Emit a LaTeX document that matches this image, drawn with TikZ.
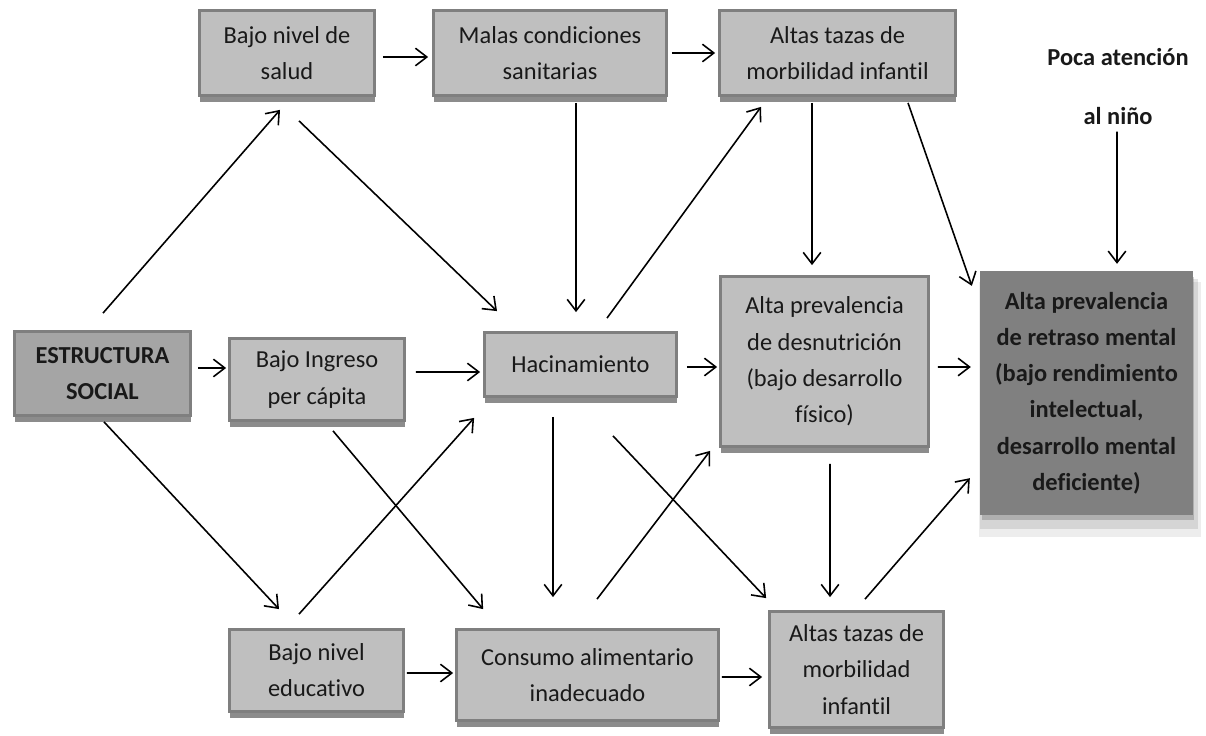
\documentclass[tikz,border=0pt]{standalone}
\usepackage{fontspec}
\setmainfont{Carlito}[Ligatures=NoCommon]
\usetikzlibrary{positioning,calc,shadows,arrows.meta}
\definecolor{BoxFill}{HTML}{BFBFBF}
\definecolor{BoxLine}{HTML}{7F7F7F}
\definecolor{RootFill}{HTML}{A5A5A5}
\definecolor{EffectFill}{HTML}{808080}
\newcommand{\diagfont}{\fontsize{13.9}{20.6}\selectfont}
\tikzstyle{CauseNode}=[rectangle, draw=BoxLine, line width=1.6pt, fill=BoxFill, align=center, inner sep=0pt, font=\diagfont, text=black!90, drop shadow={shadow xshift=0.5pt, shadow yshift=-3.5pt, opacity=0.45, fill=black}]
\tikzstyle{RootNode}=[CauseNode, fill=RootFill, font=\diagfont\bfseries]
\tikzstyle{EffectNode}=[rectangle, draw=EffectFill, line width=0.8pt, fill=EffectFill, align=center, inner sep=0pt, font=\diagfont\bfseries, text=black!90,
  drop shadow={shadow xshift=2pt, shadow yshift=-9pt, shadow scale=1.05, opacity=0.07, fill=black},
  drop shadow={shadow xshift=1.5pt, shadow yshift=-6pt, shadow scale=1.03, opacity=0.1, fill=black},
  drop shadow={shadow xshift=1pt, shadow yshift=-3pt, opacity=0.18, fill=black}]
\tikzstyle{NoteNode}=[align=center, font=\diagfont\bfseries, text=black!90, inner sep=0pt]
\tikzstyle{Link}=[->, line width=0.9pt]

\begin{document}
\begin{tikzpicture}[x=0.02cm, y=-0.02cm, >={Straight Barb[length=6.5pt,width=10pt]}]
    \useasboundingbox (0,0) rectangle (1206,736);

    \node (salud) [CauseNode, minimum width=3.50cm, minimum height=1.70cm] at (287,53) {Bajo nivel de\\salud};
    \node (malas) [CauseNode, minimum width=4.66cm, minimum height=1.70cm] at (550,53) {Malas condiciones\\sanitarias};
    \node (altastop) [CauseNode, minimum width=4.72cm, minimum height=1.70cm] at (837.5,53) {Altas tazas de\\morbilidad infantil};
    \node (poca) [NoteNode] at (1118,87) {Poca atención\\[13pt]al niño};

    \node (estructura) [RootNode, minimum width=3.52cm, minimum height=1.68cm] at (102.5,373.5) {ESTRUCTURA\\SOCIAL};
    \node (ingreso) [CauseNode, minimum width=3.50cm, minimum height=1.64cm] at (317,379.5) {Bajo Ingreso\\per cápita};
    \node (hacin) [CauseNode, minimum width=3.84cm, minimum height=1.28cm] at (580.5,364.5) {Hacinamiento};
    \node (desnut) [CauseNode, minimum width=4.16cm, minimum height=3.40cm] at (824.5,361.5) {Alta prevalencia\\de desnutrición\\(bajo desarrollo\\físico)};
    \node (retraso) [EffectNode, minimum width=4.24cm, minimum height=4.86cm] at (1086.5,393) {Alta prevalencia\\de retraso mental\\(bajo rendimiento\\intelectual,\\desarrollo mental\\deficiente)};

    \node (educ) [CauseNode, minimum width=3.48cm, minimum height=1.64cm] at (316.5,670.5) {Bajo nivel\\educativo};
    \node (consumo) [CauseNode, minimum width=5.24cm, minimum height=1.82cm] at (587.5,675) {Consumo alimentario\\inadecuado};
    \node (altasbot) [CauseNode, minimum width=3.48cm, minimum height=2.32cm] at (856.5,669.5) {Altas tazas de\\morbilidad\\infantil};

    \draw [Link] ($(salud.east)+(7,4)$) -- ($(malas.west)+(-4,4)$);
    \draw [Link] ($(malas.east)+(4,0)$) -- ($(altastop.west)+(-3,0)$);
    \draw [Link] ($(estructura.north)+(0.5,-17)$) -- ($(salud.south)+(-7,13)$);
    \draw [Link] ($(salud.south)+(12,24)$) -- ($(hacin.north)+(-83.5,-20)$);
    \draw [Link] ($(malas.south)+(26,6)$) -- ($(hacin.north)+(-4.5,-19)$);
    \draw [Link] ($(hacin.north)+(26.5,-13)$) -- ($(altastop.south)+(-76.5,10)$);
    \draw [Link] ($(altastop.south)+(-25.5,6)$) -- ($(desnut.north)+(-12.5,-10)$);
    \draw [Link] ($(altastop.south)+(70.5,6)$) -- ($(retraso.north west)+(-8,15)$);
    \draw [Link] ($(poca.south)+(-1,6)$) -- ($(retraso.north)+(30.5,-7)$);
    \draw [Link] ($(estructura.east)+(6,-5.5)$) -- ($(ingreso.west)+(-2,-11.5)$);
    \draw [Link] ($(ingreso.east)+(10,-7.5)$) -- ($(hacin.west)+(-3,7.5)$);
    \draw [Link] ($(hacin.east)+(9,2.5)$) -- ($(desnut.west)+(-2,5.5)$);
    \draw [Link] ($(desnut.east)+(8,5.5)$) -- ($(retraso.west)+(-9,-26)$);
    \draw [Link] ($(estructura.south)+(1.5,5)$) -- ($(educ.north)+(-37.5,-19)$);
    \draw [Link] ($(educ.north)+(-17.5,-14)$) -- ($(hacin.south west)+(-9,20)$);
    \draw [Link] ($(ingreso.south)+(16,9)$) -- ($(consumo.north west)+(28,-19)$);
    \draw [Link] ($(hacin.south)+(-27.5,19)$) -- ($(consumo.north)+(-34.5,-31)$);
    \draw [Link] ($(consumo.north)+(9.5,-29)$) -- ($(desnut.south west)+(-9,3)$);
    \draw [Link] ($(hacin.south)+(32.5,38)$) -- ($(altasbot.north west)+(-2,-12)$);
    \draw [Link] ($(desnut.south)+(5.5,16)$) -- ($(altasbot.north)+(-26.5,-13)$);
    \draw [Link] ($(altasbot.north)+(8.5,-11)$) -- ($(retraso.south west)+(-10,-37)$);
    \draw [Link] ($(educ.east)+(2,2.5)$) -- ($(consumo.west)+(-2,-2)$);
    \draw [Link] ($(consumo.east)+(2,2)$) -- ($(altasbot.west)+(-6,7.5)$);
  \end{tikzpicture}
\end{document}
